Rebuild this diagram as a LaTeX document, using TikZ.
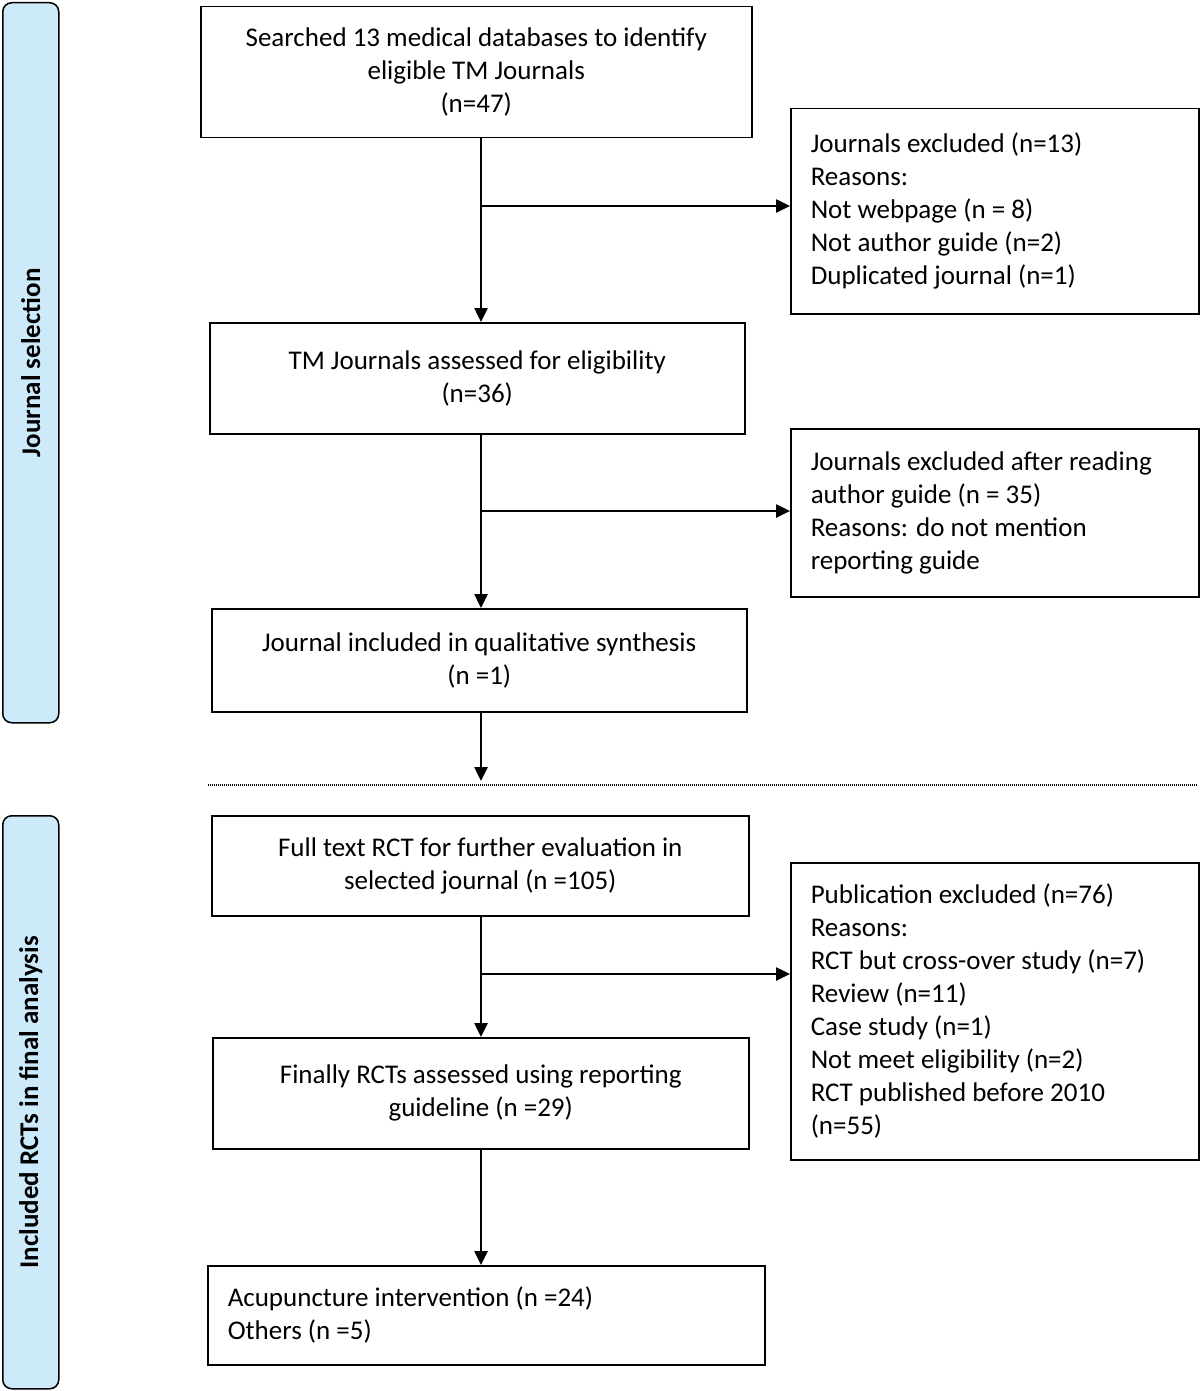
\documentclass[tikz,border=0pt]{standalone}
\usepackage{fontspec}
\setmainfont{Carlito}
\usetikzlibrary{arrows.meta,calc}
\definecolor{sidefill}{HTML}{CDEAFB}
\begin{document}
\begin{tikzpicture}[x=1pt,y=-1pt,
  box/.style={draw,line width=1.5pt,anchor=north west,inner ysep=0pt,font=\fontsize{27}{33}\selectfont},
  cbox/.style={box,align=center,inner xsep=0pt},
  lbox/.style={box,align=flush left,inner xsep=20pt},
  side/.style={draw,line width=1.5pt,fill=sidefill,rounded corners=9pt,anchor=north west,inner sep=0pt},
  sidetext/.style={font=\fontsize{27}{30}\selectfont\bfseries,rotate=90},
  arr/.style={line width=2.5pt,-{Triangle[length=14pt,width=13pt]}}]
\useasboundingbox (0,0) rectangle (1200,1391);
% side bars
\node[side,minimum width=56pt,minimum height=720pt] (s1) at (2,2) {};
\node[sidetext] (s1t) at (s1.center) {Journal selection};
\node[side,minimum width=56pt,minimum height=573pt] (s2) at (2,815) {};
\node[sidetext] (s2t) at (s2.center) {Included RCTs in final analysis};
% boxes
\node[cbox,minimum width=551pt,minimum height=131pt] (A) at (200,6) {Searched 13 medical databases to identify\\eligible TM Journals\\(n=47)};
\node[lbox,text width=368pt,minimum height=205pt] (B) at (790,108) {Journals excluded (n=13)\\Reasons:\\Not webpage (n = 8)\\Not author guide (n=2)\\Duplicated journal (n=1)};
\node[cbox,minimum width=535pt,minimum height=111pt] (C) at (209,322) {TM Journals assessed for eligibility\\(n=36)};
\node[lbox,text width=368pt,minimum height=168pt] (D) at (790,428) {Journals excluded after reading\\author guide (n = 35)\\Reasons: do not mention\\reporting guide};
\node[cbox,minimum width=535pt,minimum height=103pt] (E) at (211,608) {Journal included in qualitative synthesis\\(n =1)};
\node[cbox,minimum width=537pt,minimum height=100pt] (F) at (211,815) {Full text RCT for further evaluation in\\selected journal (n =105)};
\node[lbox,text width=368pt,minimum height=297pt] (G) at (790,862) {Publication excluded (n=76)\\Reasons:\\RCT but cross-over study (n=7)\\Review (n=11)\\Case study (n=1)\\Not meet eligibility (n=2)\\RCT published before 2010\\(n=55)};
\node[cbox,minimum width=536pt,minimum height=111pt] (H) at (212,1037) {Finally RCTs assessed using reporting\\guideline (n =29)};
\node[lbox,text width=517pt,minimum height=99pt] (I) at (207,1265) {Acupuncture intervention (n =24)\\Others (n =5)};
% connectors
\coordinate (x0) at (481,0);
\coordinate (b1) at (481,206);
\coordinate (b2) at (481,511);
\coordinate (b3) at (481,974);
\coordinate (e1) at (481,781);
\draw[arr] (A.south -| x0) -- (C.north -| x0);
\draw[arr] (b1) -- (b1 -| B.west);
\draw[arr] (C.south -| x0) -- (E.north -| x0);
\draw[arr] (b2) -- (b2 -| D.west);
\draw[arr] (E.south -| x0) -- (e1);
\draw[arr] (F.south -| x0) -- (H.north -| x0);
\draw[arr] (b3) -- (b3 -| G.west);
\draw[arr] (H.south -| x0) -- (I.north -| x0);
% separator
\coordinate (d1) at (208,785);
\coordinate (d2) at (1197,785);
\draw[line width=2pt,dash pattern=on 1pt off 1pt] (d1) -- (d2);
\end{tikzpicture}
\end{document}
